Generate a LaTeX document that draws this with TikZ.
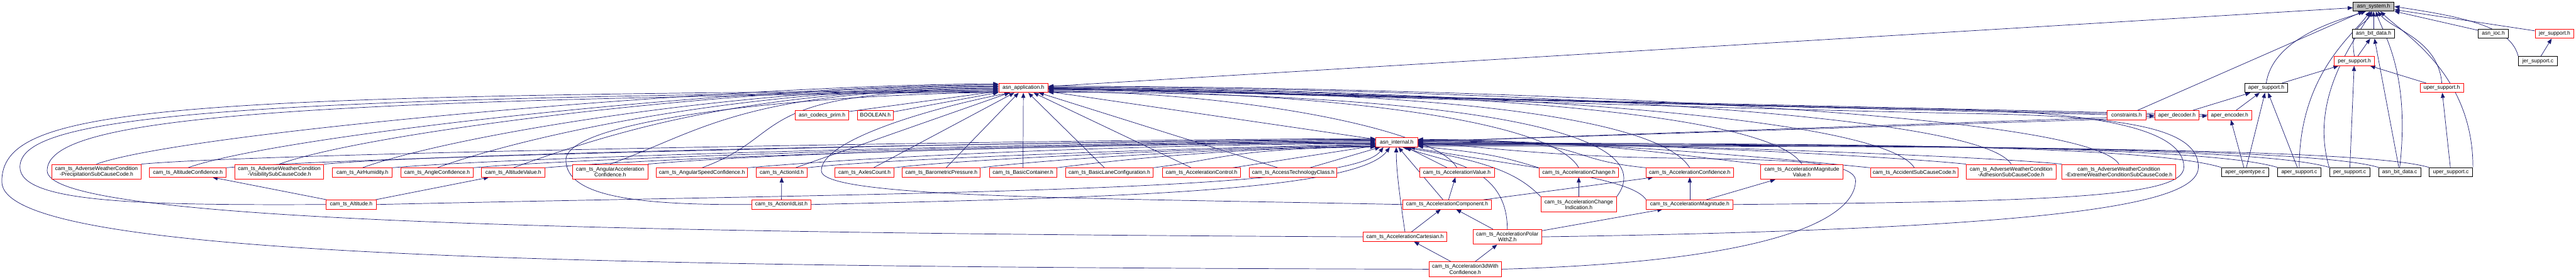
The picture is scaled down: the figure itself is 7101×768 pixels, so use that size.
\documentclass[tikz,border=0pt]{standalone}
\usepackage{fontspec}
\setmainfont{Liberation Sans}
\usepackage{xcolor}
\usetikzlibrary{arrows.meta,backgrounds}
\definecolor{arco}{HTML}{191970}
\definecolor{radice}{HTML}{BFBFBF}
\newcommand{\dotfont}{\fontsize{4.2}{4.5}\selectfont}

\begin{document}
\begin{tikzpicture}[x=0.01cm,y=-0.01cm,
  file/.style={draw=black,fill=white,rectangle,inner sep=0pt,line width=0.45pt,
               align=center,font=\dotfont,minimum height=0.25cm},
  trunc/.style={file,draw=red},
  root/.style={file,fill=radice},
  tall/.style={minimum height=0.41cm},
  inc/.style={draw=arco,line width=0.35pt,-{Triangle[length=1.4mm,width=1.1mm]}}]

\useasboundingbox (0,0) rectangle (7101,768);

%========================
% Livello alto
%========================

\node[root,minimum width=1.13cm] (sys) at (6543,18) {asn\_system.h};

\node[file,minimum width=1.17cm] (bitdatah) at (6543,93) {asn\_bit\_data.h};
\node[file,minimum width=0.84cm] (ioc) at (6873,93) {asn\_ioc.h};
\node[trunc,minimum width=1.07cm] (jerh) at (7042,93) {jer\_support.h};

\node[trunc,minimum width=1.11cm] (perh) at (6490,168) {per\_support.h};
\node[file,minimum width=1.07cm] (jerc) at (6996,168) {jer\_support.c};

\node[file,minimum width=1.19cm] (apersuph) at (6247,242) {aper\_support.h};
\node[trunc,minimum width=1.19cm] (upersuph) at (6731,242) {uper\_support.h};
\node[trunc,minimum width=1.36cm] (app) at (2821,242) {asn\_application.h};

\node[trunc,minimum width=1.07cm] (constr) at (5862,317) {constraints.h};
\node[trunc,minimum width=1.22cm] (aperdec) at (6001,317) {aper\_decoder.h};
\node[trunc,minimum width=1.21cm] (aperenc) at (6146,317) {aper\_encoder.h};
\node[trunc,minimum width=1.46cm] (prim) at (2266,317) {asn\_codecs\_prim.h};
\node[trunc,minimum width=0.98cm] (bool) at (2413,317) {BOOLEAN.h};

\node[trunc,minimum width=1.15cm] (internal) at (3850,392) {asn\_internal.h};

%========================
% Riga dei tipi cam_ts
%========================

\node[trunc,tall,minimum width=2.45cm] (precip) at (266,473) {cam\_ts\_AdverseWeatherCondition\\-PrecipitationSubCauseCode.h};
\node[trunc,minimum width=2.11cm] (altconf) at (518,475) {cam\_ts\_AltitudeConfidence.h};
\node[trunc,tall,minimum width=2.45cm] (visib) at (770,473) {cam\_ts\_AdverseWeatherCondition\\-VisibilitySubCauseCode.h};
\node[trunc,minimum width=1.64cm] (airhum) at (999,475) {cam\_ts\_AirHumidity.h};
\node[trunc,minimum width=1.98cm] (angconf) at (1205,475) {cam\_ts\_AngleConfidence.h};
\node[trunc,minimum width=1.75cm] (altval) at (1415,475) {cam\_ts\_AltitudeValue.h};
\node[trunc,tall,minimum width=2.07cm] (angacc) at (1682,473) {cam\_ts\_AngularAcceleration\\Confidence.h};
\node[trunc,minimum width=2.51cm] (angspd) at (1935,475) {cam\_ts\_AngularSpeedConfidence.h};
\node[trunc,minimum width=1.41cm] (actid) at (2155,475) {cam\_ts\_ActionId.h};
\node[trunc,minimum width=1.62cm] (axles) at (2383,475) {cam\_ts\_AxlesCount.h};
\node[trunc,minimum width=2.15cm] (baro) at (2595,475) {cam\_ts\_BarometricPressure.h};
\node[trunc,minimum width=1.85cm] (basiccont) at (2820,475) {cam\_ts\_BasicContainer.h};
\node[trunc,minimum width=2.41cm] (basiclane) at (3058,475) {cam\_ts\_BasicLaneConfiguration.h};
\node[trunc,minimum width=2.16cm] (accctrl) at (3312,475) {cam\_ts\_AccelerationControl.h};
\node[trunc,minimum width=2.41cm] (acctech) at (3565,475) {cam\_ts\_AccessTechnologyClass.h};
\node[trunc,minimum width=2.06cm] (accval) at (4016,475) {cam\_ts\_AccelerationValue.h};
\node[trunc,minimum width=2.19cm] (accchg) at (4352,475) {cam\_ts\_AccelerationChange.h};
\node[trunc,minimum width=2.41cm] (accconf) at (4658,475) {cam\_ts\_AccelerationConfidence.h};
\node[trunc,tall,minimum width=2.27cm] (accmagval) at (4967,473) {cam\_ts\_AccelerationMagnitude\\Value.h};
\node[trunc,minimum width=2.42cm] (accident) at (5277,475) {cam\_ts\_AccidentSubCauseCode.h};
\node[trunc,tall,minimum width=2.47cm] (adhesion) at (5544,473) {cam\_ts\_AdverseWeatherCondition\\-AdhesionSubCauseCode.h};
\node[trunc,tall,minimum width=3.14cm] (extreme) at (5841,473) {cam\_ts\_AdverseWeatherCondition\\-ExtremeWeatherConditionSubCauseCode.h};

% sorgenti .c
\node[file,minimum width=1.31cm] (aperopen) at (6189,474) {aper\_opentype.c};
\node[file,minimum width=1.19cm] (apersupc) at (6338,474) {aper\_support.c};
\node[file,minimum width=1.11cm] (persupc) at (6477,474) {per\_support.c};
\node[file,minimum width=1.16cm] (bitdatac) at (6615,474) {asn\_bit\_data.c};
\node[file,minimum width=1.20cm] (upersupc) at (6756,474) {uper\_support.c};

%========================
% Livelli bassi
%========================

\node[trunc,minimum width=1.38cm] (altitude) at (968,563) {cam\_ts\_Altitude.h};
\node[trunc,minimum width=1.62cm] (actidlist) at (2154,563) {cam\_ts\_ActionIdList.h};
\node[trunc,minimum width=2.44cm] (acccomp) at (3989,563) {cam\_ts\_AccelerationComponent.h};
\node[trunc,tall,minimum width=2.07cm] (accchgind) at (4352,563) {cam\_ts\_AccelerationChange\\Indication.h};
\node[trunc,minimum width=2.39cm] (accmag) at (4658,563) {cam\_ts\_AccelerationMagnitude.h};

\node[trunc,minimum width=2.30cm] (acccart) at (3873,652) {cam\_ts\_AccelerationCartesian.h};
\node[trunc,tall,minimum width=1.89cm] (accpolar) at (4155,652) {cam\_ts\_AccelerationPolar\\WithZ.h};

\node[trunc,tall,minimum width=2.00cm] (acc3d) at (4039,741) {cam\_ts\_Acceleration3dWith\\Confidence.h};

%========================
% Archi
%========================

\begin{scope}[on background layer]

% verso asn_system.h
\foreach \a in {app,bitdatah,ioc,jerh}
{
    \draw[inc] (\a) -- (sys);
}
\draw[inc] (constr) -- (sys.205);
\draw[inc] (apersuph.north) .. controls +(20,-130) and +(-60,20) .. (sys.212);
\draw[inc] (apersupc.north) .. controls +(0,-260) and +(-40,60) .. (sys.232);
\draw[inc] (persupc.north west) .. controls +(-60,-200) and +(-30,60) .. (sys.243);
\draw[inc] (perh.north) .. controls +(-15,-90) and +(-20,40) .. (sys.254);
\draw[inc] (bitdatac.north) .. controls +(30,-260) and +(20,60) .. (sys.295);
\draw[inc] (upersuph.north) .. controls +(-10,-120) and +(40,50) .. (sys.310);
\draw[inc] (upersupc.north east) .. controls +(0,-260) and +(60,60) .. (sys.325);
\draw[inc] (jerc.north west) .. controls +(-20,-80) and +(200,30) .. (sys.east);

% supporti per/aper/uper
\foreach \a/\b in {perh/bitdatah,jerc/jerh,apersuph/perh,upersuph/perh,
                   aperdec/apersuph,aperenc/apersuph,aperopen/aperenc,aperopen/apersuph,
                   apersupc/apersuph,persupc/perh,bitdatac/bitdatah,upersupc/upersuph}
{
    \draw[inc] (\a) -- (\b);
}

% verso asn_application.h
\foreach \a in {constr,aperdec,aperenc,prim,bool,internal}
{
    \draw[inc] (\a) -- (app);
}
\draw[inc] (internal) -- (aperdec);
\draw[inc] (internal) -- (aperenc);

% tipi a sinistra
\foreach \n/\p/\q in {precip/171/170,altconf/173/172,visib/175/174,airhum/177/176,
                      angconf/179/178,altval/181/180,angacc/183/182,angspd/185/184}
{
    \draw[inc] (\n.north) .. controls +(250,-90) and +(-700,0) .. (app.\p);
    \draw[inc] (\n.north east) .. controls +(400,-35) and +(-600,0) .. (internal.\q);
}

% tipi sotto asn_application.h
\foreach \n/\q in {actid/186,axles/188,baro/190,basiccont/191,basiclane/192}
{
    \draw[inc] (\n) -- (app);
    \draw[inc] (\n.north east) .. controls +(200,-25) and +(-400,5) .. (internal.\q);
}
\foreach \n in {accctrl,acctech}
{
    \draw[inc] (\n) -- (app);
    \draw[inc] (\n) -- (internal);
}

% tipi a destra
\draw[inc] (accval.north) .. controls +(-60,-110) and +(500,0) .. (app.352);
\draw[inc] (accval) -- (internal);
\draw[inc] (accchg.north) .. controls +(-80,-140) and +(700,0) .. (app.354);
\draw[inc] (accchg.north west) .. controls +(-100,-30) and +(200,20) .. (internal.350);
\foreach \n/\p/\q in {accconf/356/8,accmagval/358/6,accident/0/4,adhesion/2/2,extreme/4/0}
{
    \draw[inc] (\n.north) .. controls +(-100,-160) and +(900,0) .. (app.\p);
    \draw[inc] (\n.north west) .. controls +(-250,-25) and +(500,0) .. (internal.\q);
}

% sorgenti .c
\foreach \n/\q in {aperopen/358,apersupc/356,persupc/354,bitdatac/352,upersupc/350}
{
    \draw[inc] (\n.north west) .. controls +(-200,-60) and +(1200,0) .. (internal.\q);
}

% livelli bassi
\foreach \a/\b in {altitude/altval,altitude/altconf,actidlist/actid,acccomp/accval,
                   acccomp/accconf,accmag/accmagval,accmag/accconf,accchgind/accchg,
                   acccart/acccomp,accpolar/acccomp,accpolar/accmag,acc3d/acccart,acc3d/accpolar}
{
    \draw[inc] (\a) -- (\b);
}
\draw[inc] (acccart.north) .. controls +(-15,-100) and +(0,60) .. (internal.265);
\draw[inc] (acccomp) -- (internal.290);
\draw[inc] (altitude.east) .. controls (2500,530) and (3720,530) .. (internal.200);
\draw[inc] (actidlist.east) .. controls (3000,545) and (3740,530) .. (internal.215);
\draw[inc] (accpolar.north) .. controls +(0,-180) and +(100,40) .. (internal.330);
\draw[inc] (accmag.north west) .. controls +(-40,-60) and +(350,60) .. (internal.340);
\draw[inc] (accchgind.north west) .. controls +(-60,-60) and +(250,40) .. (internal.320);
\draw[inc] (acc3d.east) .. controls (4900,720) and (5110,600) .. (5115,500)
           .. controls (5120,440) and (4900,440) .. (4600,435)
           .. controls (4250,430) and (4050,400) .. (internal.east);

% giri larghi verso asn_application.h
\draw[inc] (acc3d.west) .. controls (1400,735) and (5,700) .. (5,500)
           .. controls (5,300) and (400,262) .. (app.186);
\draw[inc] (altitude.west) .. controls (400,565) and (55,560) .. (55,460)
           .. controls (55,330) and (500,268) .. (app.188);
\draw[inc] (acccart.west) .. controls (1400,640) and (130,600) .. (130,470)
           .. controls (130,330) and (700,276) .. (app.189);
\draw[inc] (actidlist.west) .. controls (1750,565) and (1560,540) .. (1560,440)
           .. controls (1560,330) and (2200,262) .. (app.190);
\draw[inc] (acccomp.west) .. controls (3000,545) and (2264,545) .. (2264,470)
           .. controls (2264,380) and (2600,290) .. (app.200);
\draw[inc] (accmag.east) .. controls (5700,555) and (6020,540) .. (6020,460)
           .. controls (6020,360) and (5800,310) .. (5400,302)
           .. controls (4400,285) and (3500,250) .. (app.east);
\draw[inc] (accpolar.east) .. controls (5700,630) and (6060,560) .. (6060,460)
           .. controls (6060,350) and (5850,318) .. (5400,312)
           .. controls (4400,290) and (3500,255) .. (app.358);
\draw[inc] (accchgind.north east) .. controls +(150,-200) and +(1000,0) .. (app.350);

\end{scope}
\end{tikzpicture}
\end{document}
